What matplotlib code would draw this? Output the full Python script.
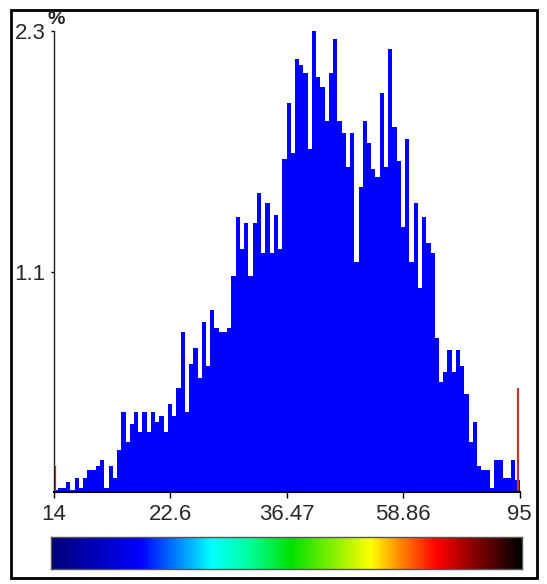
import numpy as np
import matplotlib
matplotlib.use("Agg")
import matplotlib.pyplot as plt
from matplotlib.colors import LinearSegmentedColormap
from matplotlib.patches import Rectangle

plt.rcParams['font.family'] = ['Liberation Sans', 'DejaVu Sans']

# histogram values (% of pixels per bin) left to right
pct = [0.01, 0.02, 0.02, 0.05, 0.01, 0.07, 0.02, 0.07, 0.11, 0.11, 0.13, 0.16,
       0.02, 0.13, 0.07, 0.21, 0.40, 0.25, 0.34, 0.40, 0.30, 0.40, 0.30,
       0.40, 0.35, 0.38, 0.30, 0.44, 0.38, 0.52, 0.80, 0.40, 0.64, 0.72, 0.57,
       0.85, 0.63, 0.91, 0.82, 0.80, 0.80, 0.82, 1.08, 1.37, 1.21, 1.34,
       1.08, 1.34, 1.49, 1.19, 1.44, 1.19, 1.38, 1.21, 1.66, 1.94, 1.69, 2.16,
       2.13, 2.09, 1.71, 2.30, 2.07, 2.02, 1.85, 2.09, 2.26, 1.85,
       1.79, 1.62, 1.79, 1.15, 1.52, 1.85, 1.74, 1.61, 1.57, 1.99, 1.62, 2.21,
       1.82, 1.65, 1.32, 1.76, 1.15, 1.44, 1.02, 1.37, 1.24, 1.19,
       0.77, 0.55, 0.60, 0.71, 0.60, 0.71, 0.63, 0.49, 0.25, 0.35, 0.13, 0.11,
       0.11, 0.02, 0.16, 0.16, 0.07, 0.07, 0.16, 0.06]
# clipped ends (red lines at min / max)
end_pct = [0.13, 0.52]

x_labels = ['14', '22.6', '36.47', '58.86', '95']
y_ticks = [1.1, 2.3]
y_labels = ['1.1', '2.3']

n = len(pct)
W, H = 547, 584

fig = plt.figure(figsize=(W / 100, H / 100), dpi=100)

# outer frame
fig.patches.append(Rectangle((11 / W, 6 / H), 526 / W, 568 / H, transform=fig.transFigure,
                             fill=False, lw=2, ec='black'))

ax = fig.add_axes([53.5 / W, 92 / H, 466 / W, 461 / H])
ax.bar(np.arange(n) + 0.5, pct, width=1.0, color='#0000ff', lw=0, antialiased=False)
ax.vlines([0.25, n - 0.25], 0, end_pct, colors='#c0392b', lw=1.6)

ax.set_xlim(0, n)
ax.set_ylim(0, 2.3)
for s in ['top', 'right']:
    ax.spines[s].set_visible(False)
ax.spines['left'].set_color('#222222')
ax.spines['left'].set_linewidth(1)
ax.spines['bottom'].set_color('black')
ax.spines['bottom'].set_linewidth(1.5)

ax.set_xticks(np.linspace(0, n, len(x_labels)))
ax.set_xticklabels(x_labels)
ax.set_yticks(y_ticks)
ax.set_yticklabels(y_labels)
ax.tick_params(axis='x', length=4.5, width=1, pad=4, labelsize=16, labelcolor='#2a2a2a')
ax.tick_params(axis='y', length=2.5, width=1, pad=3, labelsize=16, labelcolor='#2a2a2a')

fig.text(56 / W, 1 - 20 / H, '%', ha='center', va='center', fontsize=14,
         fontweight='bold', color='#222222')

# colour ramp under the histogram
cmap = LinearSegmentedColormap.from_list('ramp', [
    (0.0, '#00007a'), (0.19, '#0000ff'), (0.34, '#00ffff'), (0.42, '#00ffa0'),
    (0.51, '#00e000'), (0.68, '#ffff00'), (0.74, '#ff8c00'), (0.82, '#ff0000'),
    (0.90, '#8b0000'), (1.0, '#000000')])
cax = fig.add_axes([50.5 / W, 15 / H, 471 / W, 32 / H])
cax.imshow(np.linspace(0, 1, 512)[None, :], aspect='auto', cmap=cmap)
cax.set_xticks([])
cax.set_yticks([])
for s in cax.spines.values():
    s.set_color('#555555')
    s.set_linewidth(1)

fig.savefig('out.png', dpi=100)
